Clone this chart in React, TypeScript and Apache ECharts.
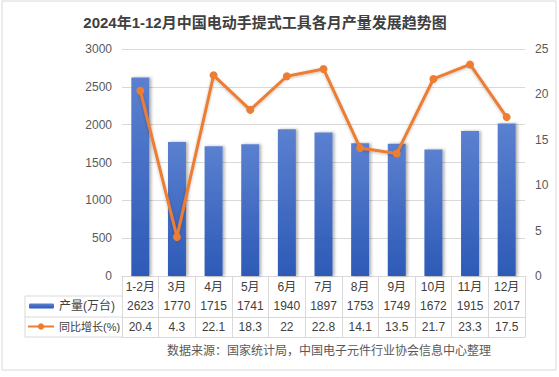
import React, { useEffect, useRef } from "react";
import * as echarts from "echarts";

const categories = ["1-2月", "3月", "4月", "5月", "6月", "7月", "8月", "9月", "10月", "11月", "12月"];
const production = [2623, 1770, 1715, 1741, 1940, 1897, 1753, 1749, 1672, 1915, 2017];
const yoy = [20.4, 4.3, 22.1, 18.3, 22, 22.8, 14.1, 13.5, 21.7, 23.3, 17.5];
const leftTicks = { min: 0, max: 3000, interval: 500 };
const rightTicks = { min: 0, max: 25, interval: 5 };

const FONT = "'Liberation Sans', Arial, 'Noto Sans CJK SC', sans-serif";
const TXT = "#404040";
const GRIDC = "#d9d9d9";

export default function App() {
  const ref = useRef<HTMLDivElement>(null);
  useEffect(() => {
    if (!ref.current) return;
    const chart = echarts.init(ref.current, null, { renderer: "svg" });
    const barGrad = new echarts.graphic.LinearGradient(0, 0, 0, 1, [
      { offset: 0, color: "#5b80d0" },
      { offset: 1, color: "#2d5ab6" },
    ]);
    const tableAxis = (data: (string | number)[], offset: number, idx: number) => ({
      type: "category",
      gridIndex: 0,
      position: "bottom",
      offset,
      data: data.map(String),
      axisLine: { show: true, lineStyle: { color: GRIDC, width: 1 } },
      axisTick: { show: false },
      axisLabel: { color: TXT, fontSize: 12, fontFamily: FONT, margin: 4, interval: 0 },
      splitLine: { show: false },
      z: idx,
    });
    chart.setOption({
      animation: false,
      title: [
        {
          text: "2024年1-12月中国电动手提式工具各月产量发展趋势图",
          left: 260,
          textAlign: "center",
          top: 10,
          textStyle: { color: TXT, fontSize: 15, fontWeight: "bold", fontFamily: FONT },
        },
        {
          text: "数据来源：国家统计局，中国电子元件行业协会信息中心整理",
          left: 162,
          top: 340,
          textStyle: { color: "#595959", fontSize: 12, fontWeight: "normal", fontFamily: FONT },
        },
      ],
      legend: [
        {
          data: ["产量(万台)"],
          left: 29,
          top: 300,
          padding: 0,
          itemWidth: 25,
          itemHeight: 5,
          itemGap: 4,
          textStyle: { color: TXT, fontSize: 12, fontFamily: FONT },
        },
        {
          data: ["同比增长(%)"],
          left: 27,
          top: 321,
          padding: 0,
          itemWidth: 26,
          itemHeight: 8,
          textStyle: { color: TXT, fontSize: 11, fontFamily: FONT },
        },
      ],
      grid: { left: 122, right: 34, top: 49, bottom: 101 },
      xAxis: [
        {
          type: "category",
          data: categories,
          position: "bottom",
          axisLine: { show: true, lineStyle: { color: GRIDC } },
          axisTick: { show: true, length: 61, lineStyle: { color: GRIDC } },
          axisLabel: { color: TXT, fontSize: 12, fontFamily: FONT, margin: 5, interval: 0 },
        },
        tableAxis(production, 20, 1),
        tableAxis(yoy, 41, 2),
        { ...tableAxis(categories.map(() => ""), 61, 3), axisLabel: { show: false } },
      ],
      yAxis: [
        {
          type: "value",
          ...leftTicks,
          axisLine: { show: false },
          axisTick: { show: false },
          axisLabel: { color: "#595959", fontSize: 12, fontFamily: FONT, margin: 10, formatter: (v: number) => String(v) },
          splitLine: { lineStyle: { color: GRIDC } },
        },
        {
          type: "value",
          ...rightTicks,
          position: "right",
          axisLine: { show: false },
          axisTick: { show: false },
          axisLabel: { color: "#595959", fontSize: 12, fontFamily: FONT, margin: 10, formatter: (v: number) => String(v) },
          splitLine: { show: false },
        },
      ],
      graphic: [
        {
          type: "rect",
          shape: { x: 2, y: 1, width: 554, height: 369 },
          style: { fill: "none", stroke: GRIDC, lineWidth: 1 },
          silent: true,
        },
        { type: "line", shape: { x1: 25, y1: 296, x2: 122, y2: 296 }, style: { stroke: GRIDC, lineWidth: 1 } },
        { type: "line", shape: { x1: 25, y1: 317, x2: 122, y2: 317 }, style: { stroke: GRIDC, lineWidth: 1 } },
        { type: "line", shape: { x1: 25, y1: 337, x2: 122, y2: 337 }, style: { stroke: GRIDC, lineWidth: 1 } },
        { type: "line", shape: { x1: 25, y1: 296, x2: 25, y2: 337 }, style: { stroke: GRIDC, lineWidth: 1 } },
      ],
      series: [
        {
          name: "产量(万台)",
          type: "bar",
          data: production,
          barWidth: 18,
          itemStyle: {
            color: barGrad,
            shadowBlur: 3,
            shadowOffsetX: 2,
            shadowOffsetY: 0,
            shadowColor: "rgba(0,0,0,0.3)",
          },
        },
        {
          name: "同比增长(%)",
          type: "line",
          yAxisIndex: 1,
          data: yoy,
          symbol: "circle",
          symbolSize: 8,
          lineStyle: { color: "#ED7D31", width: 3, shadowBlur: 3, shadowColor: "rgba(0,0,0,0.25)", shadowOffsetY: 1 },
          itemStyle: { color: "#ED7D31" },
        },
      ],
    });
    return () => chart.dispose();
  }, []);
  return <div ref={ref} style={{ width: 559, height: 377, position: "absolute", left: 0, top: 0 }} />;
}
